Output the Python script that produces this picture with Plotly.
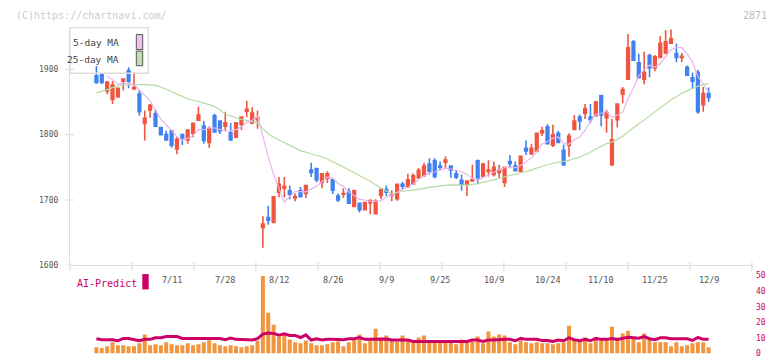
import plotly.graph_objects as go

# ---------------- data ----------------
tick_labels = ["7/11", "7/28", "8/12", "8/26", "9/9", "9/25", "10/9", "10/24", "11/10", "11/25", "12/9"]
tick_label_idx = [14, 24, 34, 44, 54, 64, 74, 84, 94, 104, 114]

opens = [1890, 1892, 1867, 1854, 1858, 1882, 1898, 1870, 1862, 1817,
         1838, 1832, 1811, 1800, 1806, 1778, 1800, 1792, 1802, 1822,
         1813, 1788, 1829, 1821, 1813, 1803, 1796, 1816, 1836, 1818,
         1823, 1658, 1673, 1666, 1712, 1718, 1714, 1703, 1714, 1710,
         1746, 1748, 1727, 1733, 1731, 1706, 1709, 1712, 1690, 1695,
         1685, 1696, 1679, 1707, 1716, 1707, 1702, 1724, 1720, 1725,
         1734, 1737, 1755, 1760, 1752, 1758, 1752, 1740, 1730, 1724,
         1729, 1760, 1736, 1744, 1739, 1742, 1727, 1759, 1752, 1744,
         1779, 1771, 1775, 1803, 1812, 1784, 1802, 1776, 1784, 1808,
         1827, 1833, 1827, 1829, 1860, 1826, 1754, 1823, 1862, 1885,
         1942, 1910, 1885, 1921, 1902, 1918, 1925, 1940, 1924, 1918,
         1903, 1887, 1895, 1846, 1863]
highs = [1905, 1894, 1882, 1882, 1871, 1885, 1903, 1895, 1868, 1837,
         1847, 1838, 1811, 1806, 1806, 1797, 1800, 1808, 1819, 1843,
         1821, 1813, 1832, 1821, 1835, 1818, 1819, 1827, 1852, 1842,
         1837, 1675, 1691, 1705, 1735, 1735, 1722, 1710, 1720, 1723,
         1757, 1748, 1741, 1744, 1732, 1710, 1718, 1718, 1716, 1696,
         1696, 1701, 1701, 1717, 1722, 1715, 1724, 1728, 1740, 1741,
         1749, 1757, 1764, 1764, 1759, 1767, 1753, 1746, 1739, 1729,
         1754, 1762, 1757, 1761, 1759, 1754, 1751, 1769, 1759, 1768,
         1791, 1786, 1803, 1812, 1816, 1815, 1806, 1785, 1802, 1830,
         1831, 1847, 1847, 1852, 1860, 1838, 1824, 1848, 1873, 1954,
         1945, 1924, 1927, 1924, 1922, 1951, 1960, 1961, 1939, 1925,
         1906, 1895, 1899, 1873, 1872]
lows = [1878, 1877, 1862, 1847, 1856, 1868, 1871, 1869, 1829, 1791,
        1826, 1812, 1799, 1791, 1780, 1770, 1784, 1786, 1796, 1821,
        1786, 1780, 1803, 1801, 1806, 1791, 1795, 1807, 1827, 1816,
        1809, 1627, 1662, 1664, 1704, 1704, 1701, 1698, 1704, 1703,
        1735, 1727, 1718, 1726, 1709, 1697, 1703, 1694, 1689, 1681,
        1684, 1678, 1678, 1701, 1706, 1698, 1699, 1715, 1719, 1723,
        1732, 1735, 1739, 1733, 1746, 1747, 1734, 1732, 1714, 1706,
        1728, 1724, 1734, 1736, 1736, 1734, 1720, 1749, 1744, 1743,
        1769, 1769, 1773, 1798, 1785, 1781, 1787, 1752, 1766, 1807,
        1807, 1824, 1818, 1828, 1813, 1803, 1752, 1811, 1848, 1885,
        1913, 1886, 1877, 1888, 1897, 1917, 1923, 1939, 1911, 1911,
        1890, 1871, 1832, 1835, 1850]
closes = [1880, 1880, 1880, 1876, 1871, 1885, 1882, 1872, 1835, 1825,
          1845, 1813, 1800, 1792, 1784, 1793, 1793, 1807, 1817, 1830,
          1791, 1809, 1804, 1806, 1818, 1792, 1818, 1827, 1839, 1833,
          1826, 1663, 1669, 1705, 1724, 1721, 1709, 1705, 1705, 1722,
          1742, 1731, 1740, 1740, 1715, 1700, 1710, 1695, 1714, 1685,
          1696, 1699, 1698, 1716, 1712, 1709, 1724, 1721, 1731, 1737,
          1745, 1752, 1744, 1736, 1750, 1761, 1746, 1735, 1724, 1729,
          1731, 1734, 1755, 1746, 1750, 1746, 1750, 1756, 1745, 1767,
          1775, 1779, 1802, 1806, 1786, 1800, 1788, 1754, 1798, 1821,
          1821, 1840, 1823, 1850, 1830, 1834, 1792, 1847, 1869, 1933,
          1914, 1887, 1895, 1902, 1919, 1940, 1942, 1947, 1918, 1920,
          1891, 1882, 1835, 1863, 1857]

volume = [4.1, 3.6, 4.7, 7.2, 5.3, 5.3, 4.7, 4.7, 6.6, 12.2,
          5.3, 5.9, 5.3, 7.2, 5.9, 5.3, 5.3, 6.6, 5.3, 5.9,
          7.2, 8.6, 6.6, 5.3, 4.7, 5.3, 4.7, 4.1, 4.7, 5.3,
          8.1, 49.7, 26.1, 18.4, 10.7, 12.1, 9.0, 7.2, 6.6, 8.4,
          6.6, 5.3, 5.3, 5.9, 7.2, 7.8, 4.7, 7.2, 9.0, 12.2,
          6.6, 8.4, 15.9, 10.3, 11.6, 8.4, 7.8, 11.6, 8.4, 7.2,
          10.3, 11.6, 7.2, 7.2, 7.2, 7.2, 7.2, 5.9, 9.0, 7.2,
          7.8, 10.9, 6.6, 14.1, 10.9, 12.2, 11.6, 7.2, 5.9, 8.4,
          7.2, 6.6, 7.2, 6.6, 6.6, 5.9, 6.6, 7.2, 17.8, 9.0,
          9.0, 10.3, 6.6, 10.3, 9.0, 9.0, 17.2, 10.2, 12.9, 14.7,
          10.3, 7.2, 12.8, 9.0, 7.2, 7.2, 7.2, 4.7, 7.2, 4.7,
          5.3, 6.6, 7.2, 7.2, 4.1]

ai_predict = [9.5, 8.85, 8.85, 8.85, 8.2, 9.7, 9.7, 9.1, 8.2, 9.1,
              9.1, 10.1, 10.1, 10.9, 10.9, 10.9, 9.7, 9.7, 9.7, 9.7,
              9.7, 9.7, 9.7, 9.7, 8.85, 9.9, 9.1, 9.1, 8.9, 8.65,
              9.5, 12.5, 13.2, 12.9, 11.8, 12.6, 11.6, 11.6, 10.3, 12.0,
              8.65, 9.5, 8.65, 9.2, 9.2, 9.2, 8.85, 9.5, 9.5, 10.3,
              9.1, 9.1, 9.1, 9.3, 9.3, 8.65, 8.65, 9.1, 8.65, 7.8,
              7.8, 7.8, 7.8, 7.8, 7.8, 7.8, 7.8, 7.8, 7.8, 7.8,
              8.65, 8.65, 7.8, 8.65, 8.65, 9.1, 9.1, 9.1, 8.2, 9.7,
              9.1, 9.1, 9.1, 8.4, 8.4, 7.8, 8.65, 8.2, 10.1, 8.85,
              8.2, 9.1, 8.2, 9.7, 9.1, 9.1, 9.7, 9.1, 9.7, 10.4,
              10.1, 9.8, 10.9, 9.5, 8.85, 10.1, 10.1, 9.5, 9.5, 9.5,
              9.5, 8.4, 10.3, 9.1, 9.1]

# moving-average values before enough closes exist in the window
ma5_head = [None, None, 1889, 1884]
ma25_head = [1864, 1866, 1869, 1872, 1875, 1876, 1876.5, 1876.5, 1876.5, 1876.5,
             1876, 1875.5, 1873, 1870, 1866, 1862, 1858, 1855, 1853, 1851,
             1848.5, 1846, 1843, 1838]

price_ticks = [1600, 1700, 1800, 1900]
volume_ticks = [0, 10, 20, 30, 40, 50]

# ---------------- derived ----------------
n = len(closes)
idx = list(range(n))


def sma(vals, w, head):
    out = list(head)
    for i in range(len(head), len(vals)):
        out.append(sum(vals[i - w + 1:i + 1]) / w)
    return out


ma5 = sma(closes, 5, ma5_head)
ma25 = sma(closes, 25, ma25_head)

# ---------------- styling ----------------
W, H = 772, 361
L, R = 70, 752
PW = R - L
MONO = "DejaVu Sans Mono"
RED = "#f0553f"
BLUE = "#4080f0"
AXC = "#dddddd"
MAG = "#cc0066"


def py(px):
    return 1 - px / H


def pxp(px):
    return (px - L) / PW


X_RANGE = [-4.916, 122.08]

fig = go.Figure()

fig.add_trace(go.Scatter(x=idx, y=ma25, mode="lines", line=dict(color="#b4dca2", width=1.2),
                         xaxis="x", yaxis="y", hoverinfo="skip", showlegend=False))
fig.add_trace(go.Scatter(x=idx, y=ma5, mode="lines", line=dict(color="#e8b4ea", width=1.2),
                         xaxis="x", yaxis="y", hoverinfo="skip", showlegend=False))
fig.add_trace(go.Candlestick(
    x=idx, open=opens, high=highs, low=lows, close=closes,
    increasing=dict(line=dict(color=RED, width=1.6), fillcolor=RED),
    decreasing=dict(line=dict(color=BLUE, width=1.6), fillcolor=BLUE),
    whiskerwidth=0, xaxis="x", yaxis="y", showlegend=False))

fig.add_trace(go.Bar(x=idx, y=volume, marker=dict(color="#f2953f", line=dict(width=0)),
                     width=0.75, xaxis="x2", yaxis="y2", showlegend=False))
fig.add_trace(go.Scatter(x=idx, y=ai_predict, mode="lines", line=dict(color=MAG, width=3),
                         xaxis="x2", yaxis="y2", showlegend=False))

shapes = []
# left tick marks crossing the price axis
for v in price_ticks:
    shapes.append(dict(type="line", xref="paper", yref="y", x0=-5 / PW, x1=4 / PW, y0=v, y1=v,
                       line=dict(color=AXC, width=1.2)))
# bottom tick marks crossing the x axis
for k in range(12):
    shapes.append(dict(type="line", xref="paper", yref="paper", x0=k / 11, x1=k / 11,
                       y0=py(273.5), y1=py(264.5), line=dict(color=AXC, width=1.2)))
# legend box
shapes.append(dict(type="rect", xref="paper", yref="paper", x0=0, x1=pxp(148.3),
                   y0=py(71), y1=py(24.3), line=dict(color=AXC, width=1.3), fillcolor="rgba(0,0,0,0)"))
shapes.append(dict(type="rect", xref="paper", yref="paper", x0=pxp(136.3), x1=pxp(142.7),
                   y0=py(46.7), y1=py(31.3), line=dict(color="#555555", width=1), fillcolor="#f0c0ee"))
shapes.append(dict(type="rect", xref="paper", yref="paper", x0=pxp(136.3), x1=pxp(142.7),
                   y0=py(63.3), y1=py(48.3), line=dict(color="#555555", width=1), fillcolor="#bfe0b2"))
# AI-Predict swatch
shapes.append(dict(type="rect", xref="paper", yref="paper", x0=pxp(142.3), x1=pxp(148.7),
                   y0=py(292.7), y1=py(277), line=dict(width=0), fillcolor=MAG))

annotations = []
for lab, i in zip(tick_labels, tick_label_idx):
    annotations.append(dict(x=i, y=py(283.5), xref="x", yref="paper", text=lab, showarrow=False,
                            xanchor="center", yanchor="middle",
                            font=dict(family=MONO, size=8.5, color="#555555")))
annotations.append(dict(x=pxp(14), y=py(12), xref="paper", yref="paper", text="(C)https://chartnavi.com/",
                        showarrow=False, xanchor="left", yanchor="middle",
                        font=dict(family=MONO, size=10, color="#cccccc")))
annotations.append(dict(x=pxp(769), y=py(12), xref="paper", yref="paper", text="2871",
                        showarrow=False, xanchor="right", yanchor="middle",
                        font=dict(family=MONO, size=10, color="#bbbbbb")))
annotations.append(dict(x=pxp(121), y=py(39), xref="paper", yref="paper", text="5-day MA",
                        showarrow=False, xanchor="right", yanchor="middle",
                        font=dict(family=MONO, size=9.5, color="#444444")))
annotations.append(dict(x=pxp(121), y=py(57), xref="paper", yref="paper", text="25-day MA",
                        showarrow=False, xanchor="right", yanchor="middle",
                        font=dict(family=MONO, size=9.5, color="#444444")))
annotations.append(dict(x=pxp(75), y=py(287), xref="paper", yref="paper", text="AI-Predict",
                        showarrow=False, xanchor="left", yanchor="middle",
                        font=dict(family=MONO, size=10, color=MAG)))

fig.update_layout(
    width=W, height=H,
    margin=dict(l=L, r=W - R, t=0, b=0, pad=0),
    paper_bgcolor="white", plot_bgcolor="white",
    showlegend=False, boxgap=0.3, hovermode=False,
    shapes=shapes, annotations=annotations,
    xaxis=dict(domain=[0, 1], range=X_RANGE, anchor="y", showgrid=False, zeroline=False,
               showline=True, linecolor=AXC, linewidth=1.2, showticklabels=False, ticks="",
               rangeslider=dict(visible=False), fixedrange=True),
    yaxis=dict(domain=[py(268), py(24.3)], range=[1600, 1600 + 243.7 / 0.67], anchor="x",
               showgrid=False, zeroline=False, showline=True, linecolor=AXC, linewidth=1.2,
               tickvals=price_ticks, ticks="", ticklabelstandoff=9,
               tickfont=dict(family=MONO, size=8, color="#555555")),
    xaxis2=dict(domain=[0, 1], range=X_RANGE, anchor="y2", matches="x", showgrid=False,
                zeroline=False, showline=False, showticklabels=False, ticks=""),
    yaxis2=dict(domain=[py(358.5), py(278.5)], range=[0, 50], anchor="x2", side="right",
                showgrid=False, zeroline=False, showline=False, tickvals=volume_ticks, ticks="",
                ticklabelstandoff=3, tickfont=dict(family=MONO, size=8, color="#c8005f")),
)

fig.write_html("out.html", config={"displayModeBar": False},
               post_script="document.body.style.margin='0';")
